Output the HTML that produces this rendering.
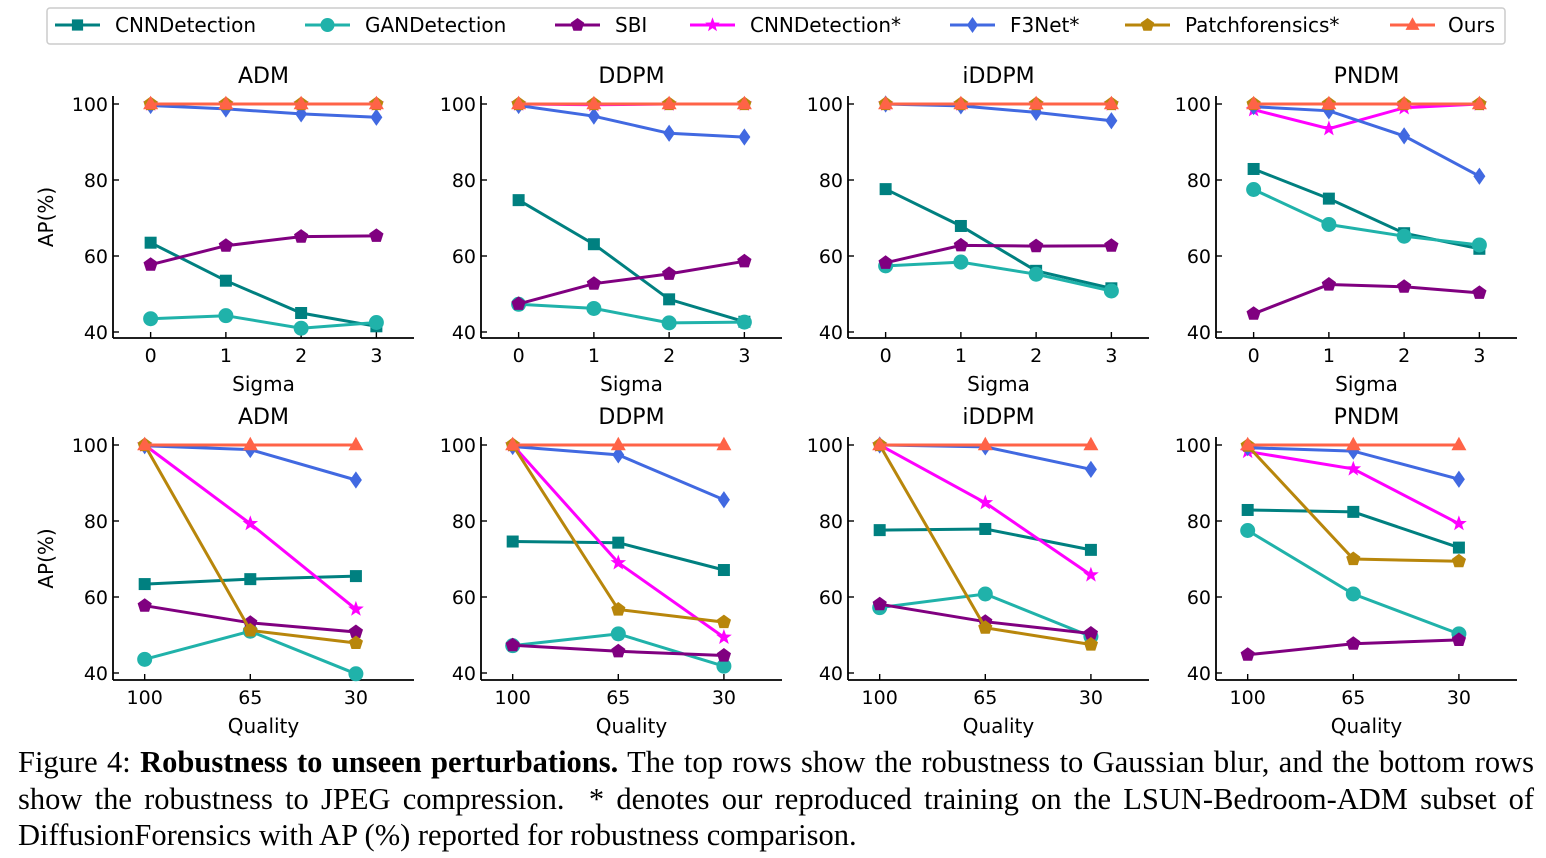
<!DOCTYPE html>
<html><head><meta charset="utf-8">
<style>
html,body{margin:0;padding:0;background:#fff;}
body{width:1546px;height:858px;overflow:hidden;position:relative;}
#chart{position:absolute;left:0;top:0;}
.cap{position:absolute;left:18px;width:1516px;font-family:"Liberation Serif",serif;font-size:30.5px;color:#000;white-space:nowrap;}
.j{text-align:justify;text-align-last:justify;}
</style></head>
<body>
<svg id="chart" width="1546" height="740" xmlns="http://www.w3.org/2000/svg" font-family="DejaVu Sans, Liberation Sans, sans-serif"></svg>
<div class="cap j" style="top:745px;">Figure 4: <b>Robustness to unseen perturbations.</b> The top rows show the robustness to Gaussian blur, and the bottom rows</div>
<div class="cap j" style="top:782px;">show the robustness to JPEG compression.&nbsp; * denotes our reproduced training on the LSUN-Bedroom-ADM subset of</div>
<div class="cap" style="top:818px;">DiffusionForensics with AP (%) reported for robustness comparison.</div>
<script>
const seriesNames = ["CNNDetection","GANDetection","SBI","CNNDetection*","F3Net*","Patchforensics*","Ours"];
const panelTitles = ["ADM","DDPM","iDDPM","PNDM"];
const sigmaLabels = ["0","1","2","3"];
const qualityLabels = ["100","65","30"];
const yTicks = [40,60,80,100];
const blurADM = [[63.5,53.5,45,41.5],[43.5,44.3,41,42.5],[57.7,62.7,65.1,65.3],[100,100,100,100],[99.6,98.7,97.4,96.5],[100,100,100,100],[100,100,100,100]];
const blurDDPM = [[74.7,63.1,48.6,42.7],[47.3,46.2,42.4,42.6],[47.4,52.7,55.3,58.6],[100,99.8,100,100],[99.6,96.8,92.3,91.3],[100,100,100,100],[100,100,100,100]];
const blurIDDPM = [[77.6,67.9,56.1,51.5],[57.4,58.4,55.2,50.8],[58.2,62.8,62.6,62.7],[100,100,100,100],[100,99.5,97.8,95.6],[100,100,100,100],[100,100,100,100]];
const blurPNDM = [[82.9,75.1,66,61.9],[77.5,68.3,65.2,62.9],[44.8,52.5,51.9,50.3],[98.5,93.5,99,100],[99.3,98.2,91.6,81],[100,100,100,100],[100,100,100,100]];
const jpegADM = [[63.4,64.7,65.5],[43.6,51,39.8],[57.7,53.2,50.8],[100,79.3,56.8],[99.8,98.8,90.8],[100,51.2,47.9],[100,100,100]];
const jpegDDPM = [[74.6,74.3,67.1],[47.2,50.3,41.8],[47.3,45.7,44.6],[100,69,49.4],[99.6,97.4,85.6],[100,56.7,53.4],[100,100,100]];
const jpegIDDPM = [[77.6,77.9,72.4],[57.2,60.8,49.6],[58.1,53.5,50.4],[100,84.8,65.8],[100,99.5,93.6],[100,51.9,47.5],[100,100,100]];
const jpegPNDM = [[82.9,82.4,73],[77.5,60.8,50.3],[44.8,47.7,48.7],[98.3,93.7,79.3],[99.3,98.4,91],[99.8,70,69.4],[100,100,100]];

const colors=["#008080","#20B2AA","#800080","#FF00FF","#4169E1","#B8860B","#FF6347"];
const markers=["square","circle","pentagon","star","diamond","pentagon","triangle"];
const svg=document.getElementById('chart');
const NS="http://www.w3.org/2000/svg";
function mk(tag,attrs,parent){const e=document.createElementNS(NS,tag);for(const k in attrs)e.setAttribute(k,attrs[k]);(parent||svg).appendChild(e);return e;}
function markerPath(type,x,y,s){
  let pts=[];
  if(type==="square"){return `M${x-s*0.8},${y-s*0.8}h${s*1.6}v${s*1.6}h${-s*1.6}z`;}
  if(type==="circle"){return `M${x-s},${y}a${s},${s} 0 1,0 ${2*s},0a${s},${s} 0 1,0 ${-2*s},0z`;}
  if(type==="diamond"){return `M${x},${y-s*1.15}L${x+s*0.8},${y}L${x},${y+s*1.15}L${x-s*0.8},${y}z`;}
  if(type==="triangle"){return `M${x},${y-s*1.1}L${x+s},${y+s*0.7}L${x-s},${y+s*0.7}z`;}
  if(type==="pentagon"){for(let i=0;i<5;i++){const a=-Math.PI/2+i*2*Math.PI/5;pts.push([x+s*Math.cos(a),y+s*Math.sin(a)]);}}
  if(type==="star"){for(let i=0;i<10;i++){const a=-Math.PI/2+i*Math.PI/5;const r=i%2?s*0.45:s*1.1;pts.push([x+r*Math.cos(a),y+r*Math.sin(a)]);}}
  return "M"+pts.map(p=>p[0].toFixed(1)+","+p[1].toFixed(1)).join("L")+"z";
}
const lg=mk('g',{});


const lbox=mk('rect',{x:47,y:8,width:1458,height:36,rx:3,fill:"#fff",stroke:"#ccc","stroke-width":1.5},lg);


const legX=[55,305,555,690,950,1125,1390];
const legTX=[115,365,615,750,1010,1185,1448];
seriesNames.forEach((n,i)=>{
  const g=mk('g',{},lg);
  
  
  mk('line',{x1:legX[i],y1:25,x2:legX[i]+45,y2:25,stroke:colors[i],"stroke-width":3},g);
  mk('path',{d:markerPath(markers[i],legX[i]+22.5,25,7),fill:colors[i]},g);
  const t=mk('text',{x:legTX[i],y:32,"font-size":20,fill:"#000"},g);t.textContent=n;
});
const panelsTop=[blurADM,blurDDPM,blurIDDPM,blurPNDM];
const panelsBot=[jpegADM,jpegDDPM,jpegIDDPM,jpegPNDM];
const panelLeft=[113,481,848,1216];
const W=301;
function drawPanel(col,row,data,labels,xmin,xmax,xlabel){
  const L=panelLeft[col];
  const y100=row?445:104, y40=row?673:332;
  const bottom=row?680:338, top=row?437:96;
  const ys=v=>y40-(v-40)*(y40-y100)/60;
  const xs=i=>L+(i-xmin)*W/(xmax-xmin);
  const g=mk('g',{});
  
  
  const tt=mk('text',{x:L+W/2,y:row?424:83,"font-size":22,"text-anchor":"middle"},g);tt.textContent=panelTitles[col];
  mk('line',{x1:L,y1:top,x2:L,y2:bottom,stroke:"#000","stroke-width":1.8},g);
  mk('line',{x1:L,y1:bottom,x2:L+W,y2:bottom,stroke:"#000","stroke-width":1.8},g);
  yTicks.forEach(v=>{
    mk('line',{x1:L,y1:ys(v),x2:L+6,y2:ys(v),stroke:"#000","stroke-width":1.4},g);
    const t=mk('text',{x:L-5,y:ys(v)+7,"font-size":19,"text-anchor":"end"},g);t.textContent=v;
  });
  labels.forEach((lab,i)=>{
    mk('line',{x1:xs(i),y1:bottom,x2:xs(i),y2:bottom-6,stroke:"#000","stroke-width":1.4},g);
    const t=mk('text',{x:xs(i),y:bottom+24,"font-size":19,"text-anchor":"middle"},g);t.textContent=lab;
  });
  const xl=mk('text',{x:L+W/2,y:bottom+53,"font-size":20,"text-anchor":"middle"},g);xl.textContent=xlabel;
  if(col===0){const yl=mk('text',{x:0,y:0,"font-size":20,"text-anchor":"middle",transform:`translate(53,${(top+bottom)/2}) rotate(-90)`},g);yl.textContent="AP(%)";}
  data.forEach((s,si)=>{
    const sg=mk('g',{},g);
    
    
    mk('polyline',{points:s.map((v,i)=>xs(i).toFixed(1)+","+ys(v).toFixed(1)).join(" "),fill:"none",stroke:colors[si],"stroke-width":3},sg);
    s.forEach((v,i)=>{mk('path',{d:markerPath(markers[si],xs(i),ys(v),7.5),fill:colors[si]},sg);});
  });
}
for(let c=0;c<4;c++){
  drawPanel(c,0,panelsTop[c],sigmaLabels,-0.5,3.5,"Sigma");
  drawPanel(c,1,panelsBot[c],qualityLabels,-0.3,2.55,"Quality");
}
</script>
</body></html>
